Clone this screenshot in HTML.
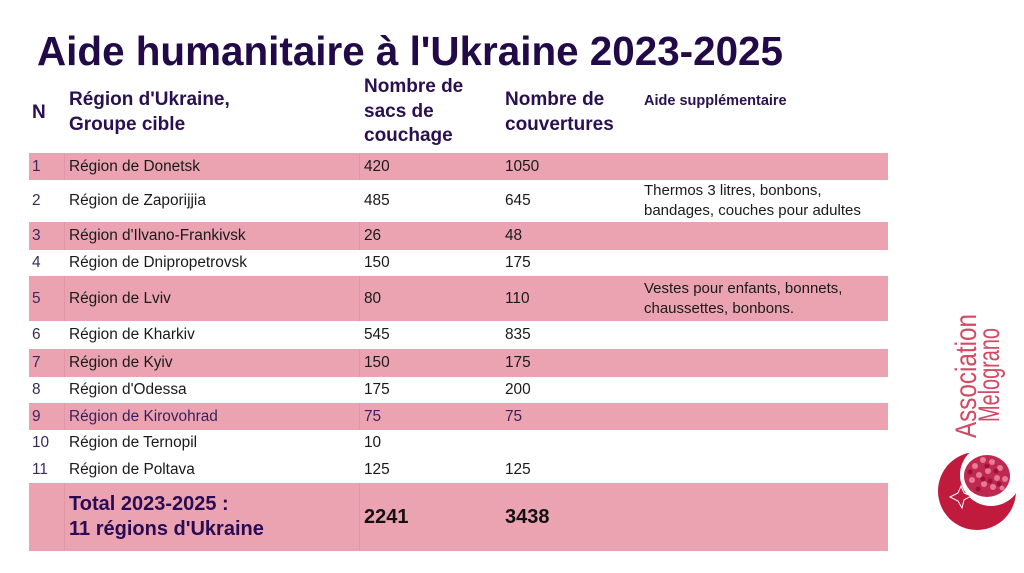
<!DOCTYPE html>
<html>
<head>
<meta charset="utf-8">
<style>
  html,body{margin:0;padding:0;background:#fff;}
  body{width:1024px;height:573px;position:relative;overflow:hidden;font-family:"Liberation Sans",Arial,sans-serif;}
  .title{position:absolute;left:37px;top:31px;font-size:40.4px;line-height:40px;font-weight:bold;color:#220a48;white-space:nowrap;}
  .h{position:absolute;font-weight:bold;color:#2a1050;font-size:19px;line-height:24.5px;white-space:nowrap;}
  .row{position:absolute;left:29px;width:859px;display:flex;align-items:center;font-size:15.4px;color:#1a1a1a;}
  .pink{background:#eba3b1;}
  .c1{width:36px;padding-left:3px;box-sizing:border-box;color:#3a2a5a;align-self:stretch;display:flex;align-items:center;}
  .c2{width:295px;padding-left:4px;box-sizing:border-box;align-self:stretch;display:flex;align-items:center;}
  .c3{width:140px;padding-left:4px;box-sizing:border-box;}
  .c4{width:140px;padding-left:5px;box-sizing:border-box;}
  .c5{width:248px;padding-left:4px;box-sizing:border-box;line-height:20px;font-size:15px;}
  .pink .c1{border-right:1px solid #e097a6;}
  .pink .c2{border-right:1px solid #e097a6;}
  .total{font-size:20px;font-weight:bold;}
</style>
</head>
<body>
<div class="title">Aide humanitaire à l'Ukraine 2023-2025</div>

<div class="h" style="left:32px;top:101px;">N</div>
<div class="h" style="left:69px;top:88px;">Région d'Ukraine,<br>Groupe cible</div>
<div class="h" style="left:364px;top:75px;">Nombre de<br>sacs de<br>couchage</div>
<div class="h" style="left:505px;top:88px;">Nombre de<br>couvertures</div>
<div class="h" style="left:644px;top:91px;font-size:14.5px;line-height:20px;">Aide supplémentaire</div>

<div class="row pink" style="top:153px;height:27px;"><div class="c1">1</div><div class="c2">Région de Donetsk</div><div class="c3">420</div><div class="c4">1050</div><div class="c5"></div></div>
<div class="row" style="top:180px;height:42px;"><div class="c1">2</div><div class="c2">Région de Zaporijjia</div><div class="c3">485</div><div class="c4">645</div><div class="c5">Thermos 3 litres, bonbons,<br>bandages, couches pour adultes</div></div>
<div class="row pink" style="top:222px;height:28px;"><div class="c1">3</div><div class="c2">Région d'Ilvano-Frankivsk</div><div class="c3">26</div><div class="c4">48</div><div class="c5"></div></div>
<div class="row" style="top:250px;height:26px;"><div class="c1">4</div><div class="c2">Région de Dnipropetrovsk</div><div class="c3">150</div><div class="c4">175</div><div class="c5"></div></div>
<div class="row pink" style="top:276px;height:45px;"><div class="c1">5</div><div class="c2">Région de Lviv</div><div class="c3">80</div><div class="c4">110</div><div class="c5">Vestes pour enfants, bonnets,<br>chaussettes, bonbons.</div></div>
<div class="row" style="top:321px;height:28px;"><div class="c1">6</div><div class="c2">Région de Kharkiv</div><div class="c3">545</div><div class="c4">835</div><div class="c5"></div></div>
<div class="row pink" style="top:349px;height:28px;"><div class="c1">7</div><div class="c2">Région de Kyiv</div><div class="c3">150</div><div class="c4">175</div><div class="c5"></div></div>
<div class="row" style="top:377px;height:26px;"><div class="c1">8</div><div class="c2">Région d'Odessa</div><div class="c3">175</div><div class="c4">200</div><div class="c5"></div></div>
<div class="row pink" style="top:403px;height:27px;color:#3a1f5c;"><div class="c1">9</div><div class="c2">Région de Kirovohrad</div><div class="c3">75</div><div class="c4">75</div><div class="c5"></div></div>
<div class="row" style="top:430px;height:26px;"><div class="c1">10</div><div class="c2">Région de Ternopil</div><div class="c3">10</div><div class="c4"></div><div class="c5"></div></div>
<div class="row" style="top:456px;height:27px;"><div class="c1">11</div><div class="c2">Région de Poltava</div><div class="c3">125</div><div class="c4">125</div><div class="c5"></div></div>
<div class="row pink" style="top:483px;height:68px;"><div class="c1"></div><div class="c2 total" style="color:#2a0a52;line-height:25px;">Total 2023-2025 :<br>11 régions d'Ukraine</div><div class="c3 total" style="color:#111;">2241</div><div class="c4 total" style="color:#111;">3438</div><div class="c5"></div></div>

<svg style="position:absolute;left:0;top:0;" width="1024" height="573" viewBox="0 0 1024 573">
  <text transform="translate(976,438) rotate(-90)" font-family="Liberation Sans, sans-serif" font-size="30" fill="#d24a64" textLength="124" lengthAdjust="spacingAndGlyphs">Association</text>
  <text transform="translate(999,422) rotate(-90)" font-family="Liberation Sans, sans-serif" font-size="30" fill="#d24a64" textLength="94" lengthAdjust="spacingAndGlyphs">Melograno</text>
  <defs>
    <mask id="cm">
      <rect x="900" y="430" width="124" height="120" fill="#fff"/>
      <circle cx="991" cy="475" r="31" fill="#000"/>
    </mask>
  </defs>
  <circle cx="977" cy="491" r="39" fill="#c01a3c" mask="url(#cm)"/>
  <polygon points="950,497 958,493 961,486 964,493 971,496 964,500 962,508 958,501" fill="#c01a3c" stroke="#fff" stroke-width="1"/>
  <ellipse cx="987" cy="476" rx="23" ry="21" fill="#c0294f"/>
  <g fill="#e67a98">
    <circle cx="975" cy="466" r="3"/><circle cx="983" cy="460" r="3"/><circle cx="992" cy="462" r="3"/>
    <circle cx="1000" cy="468" r="3"/><circle cx="979" cy="475" r="3"/><circle cx="988" cy="471" r="3"/>
    <circle cx="997" cy="478" r="3"/><circle cx="1005" cy="479" r="3"/><circle cx="984" cy="484" r="3"/>
    <circle cx="993" cy="487" r="3"/><circle cx="972" cy="480" r="3"/><circle cx="1002" cy="488" r="2.5"/>
  </g>
  <g fill="#9e1038">
    <circle cx="970" cy="472" r="2.5"/><circle cx="987" cy="466" r="2.5"/><circle cx="996" cy="471" r="2.5"/>
    <circle cx="983" cy="479" r="2.5"/><circle cx="990" cy="481" r="2.5"/><circle cx="978" cy="489" r="2.5"/>
    <circle cx="999" cy="484" r="2.5"/>
  </g>
</svg>
</body>
</html>
